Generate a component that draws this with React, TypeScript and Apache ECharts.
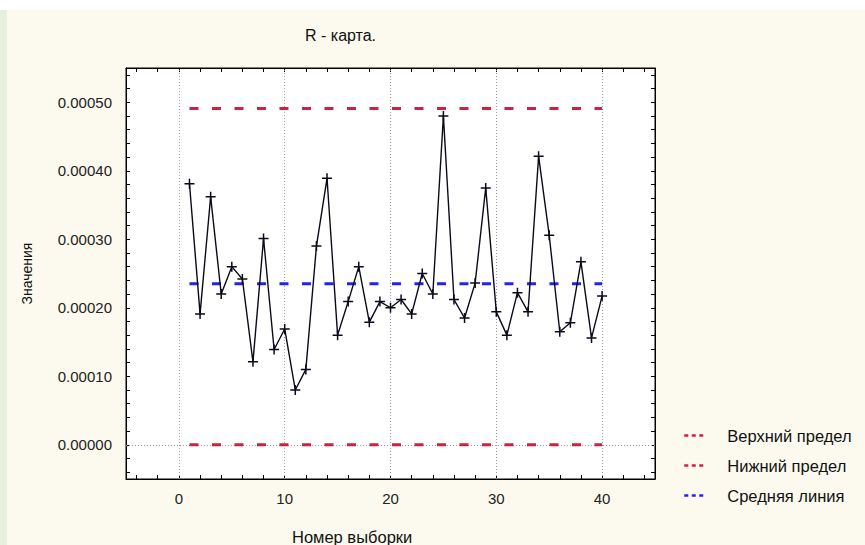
import React, { useEffect, useRef } from "react";
import * as echarts from "echarts";

const sampleNumbers = [
  1, 2, 3, 4, 5, 6, 7, 8, 9, 10, 11, 12, 13, 14, 15, 16, 17, 18, 19, 20,
  21, 22, 23, 24, 25, 26, 27, 28, 29, 30, 31, 32, 33, 34, 35, 36, 37, 38, 39, 40,
];
const rangeValues = [
  0.000381, 0.000191, 0.000362, 0.00022, 0.00026, 0.000242, 0.000121, 0.000301,
  0.000139, 0.000169, 0.00008, 0.00011, 0.00029, 0.000389, 0.00016, 0.000209,
  0.00026, 0.000179, 0.000209, 0.0002, 0.000212, 0.000191, 0.00025, 0.00022,
  0.00048, 0.000212, 0.000185, 0.000236, 0.000375, 0.000194, 0.00016, 0.000222,
  0.000194, 0.000421, 0.000306, 0.000165, 0.000178, 0.000267, 0.000156, 0.000217,
];
const upperLimit = 0.000491;
const centerLine = 0.000235;
const lowerLimit = 0;
const limitSpan = [1, 40];
const xTickLabels = [0, 10, 20, 30, 40];
const xMinorTicks = [
  -4, -2, 0, 2, 4, 6, 8, 10, 12, 14, 16, 18, 20, 22, 24, 26, 28, 30, 32, 34, 36,
  38, 40, 42, 44,
];
const yTickLabels = [0, 0.0001, 0.0002, 0.0003, 0.0004, 0.0005];
const yMinorTicks = [
  -0.00004, -0.00002, 0, 0.00002, 0.00004, 0.00006, 0.00008, 0.0001, 0.00012,
  0.00014, 0.00016, 0.00018, 0.0002, 0.00022, 0.00024, 0.00026, 0.00028, 0.0003,
  0.00032, 0.00034, 0.00036, 0.00038, 0.0004, 0.00042, 0.00044, 0.00046, 0.00048,
  0.0005, 0.00052, 0.00054,
];
const legendNames = ["Верхний предел", "Нижний предел", "Средняя линия"];

const FONT = "'Liberation Sans', Arial, sans-serif";
const RED = "#cc2240";
const BLUE = "#2424e8";
const PLUS = "path://M4.25,0H5.75V4.25H10V5.75H5.75V10H4.25V5.75H0V4.25H4.25Z";

export default function App() {
  const ref = useRef<HTMLDivElement>(null);
  useEffect(() => {
    if (!ref.current) return;
    const chart = echarts.init(ref.current, undefined, { renderer: "svg" });
    const axisCommon = {
      type: "value" as const,
      axisLine: { show: true, onZero: false, lineStyle: { color: "#000", width: 1 } },
      splitLine: { show: false },
    };
    const limitLine = (name: string, value: number, color: string, extra: any = {}) => ({
      name,
      type: "line",
      data: limitSpan.map((x) => [x, value]),
      symbol: "none",
      silent: true,
      z: 2,
      lineStyle: { color, width: 3, type: [9, 13.5] },
      itemStyle: { color },
      ...extra,
    });
    chart.setOption({
      animation: false,
      backgroundColor: "transparent",
      textStyle: { fontFamily: FONT },
      title: [
        {
          text: "R - карта.",
          left: 300,
          top: 22,
          textStyle: { fontSize: 16, fontWeight: "normal", color: "#111", fontFamily: FONT },
        },
        {
          text: "Номер выборки",
          left: 287,
          top: 523,
          textStyle: { fontSize: 16.5, fontWeight: "normal", color: "#111", fontFamily: FONT },
        },
      ],
      grid: {
        left: 126,
        top: 68,
        width: 529,
        height: 411,
        show: true,
        backgroundColor: "#ffffff",
        borderColor: "#000",
        borderWidth: 1,
      },
      legend: {
        data: legendNames,
        orient: "vertical",
        left: 678,
        top: 422,
        itemWidth: 22,
        itemHeight: 14,
        itemGap: 13,
        itemStyle: { opacity: 0 },
        lineStyle: { type: [4, 3.5], width: 2.5 },
        textStyle: { fontSize: 16.5, color: "#111", fontFamily: FONT, padding: [0, 0, 0, 16] },
      },
      xAxis: [
        {
          ...axisCommon,
          position: "bottom",
          min: -5,
          max: 45,
          axisTick: { show: true, inside: true, length: 4, customValues: xMinorTicks, lineStyle: { color: "#000" } },
          axisLabel: {
            show: true,
            customValues: xTickLabels,
            fontSize: 15,
            color: "#222",
            margin: 12,
            fontFamily: FONT,
          },
        },
        {
          ...axisCommon,
          position: "top",
          min: -5,
          max: 45,
          axisTick: { show: true, inside: true, length: 4, customValues: xMinorTicks, lineStyle: { color: "#000" } },
          axisLabel: { show: false },
        },
      ],
      yAxis: [
        {
          ...axisCommon,
          position: "left",
          min: -0.00005,
          max: 0.00055,
          name: "Значения",
          nameLocation: "middle",
          nameGap: 92,
          nameRotate: 90,
          nameTextStyle: { fontSize: 14, color: "#111", fontFamily: FONT },
          axisTick: { show: true, inside: true, length: 4, customValues: yMinorTicks, lineStyle: { color: "#000" } },
          axisLabel: {
            show: true,
            customValues: yTickLabels,
            fontSize: 15,
            color: "#222",
            margin: 14,
            fontFamily: FONT,
            formatter: (v: number) => v.toFixed(5),
          },
        },
        {
          ...axisCommon,
          position: "right",
          min: -0.00005,
          max: 0.00055,
          axisTick: { show: true, inside: true, length: 4, customValues: yMinorTicks, lineStyle: { color: "#000" } },
          axisLabel: { show: false },
        },
      ],
      series: [
        limitLine(legendNames[0], upperLimit, RED),
        limitLine(legendNames[1], lowerLimit, RED, {
          markLine: {
            silent: true,
            symbol: "none",
            z: 1,
            label: { show: false },
            lineStyle: { color: "#9a9a9a", type: [1, 2], width: 1 },
            data: [
              ...yTickLabels.map((v) => ({ yAxis: v })),
              ...xTickLabels.map((v) => ({ xAxis: v })),
            ],
          },
        }),
        limitLine(legendNames[2], centerLine, BLUE),
        {
          name: "R",
          type: "line",
          data: sampleNumbers.map((x, i) => [x, rangeValues[i]]),
          symbol: PLUS,
          symbolSize: 10,
          z: 4,
          silent: true,
          itemStyle: { color: "#0a0a1a" },
          lineStyle: { color: "#0a0a1a", width: 1.4 },
        },
      ],
    });
    return () => chart.dispose();
  }, []);

  return (
    <div style={{ position: "fixed", left: 0, top: 0, width: 865, height: 545, background: "#ffffff" }}>
      <div
        style={{
          position: "absolute",
          left: 0,
          top: 10,
          width: 858,
          height: 535,
          background: "#fcfaee",
          borderLeft: "7px solid #e6f0dc",
        }}
      />
      <div ref={ref} style={{ position: "absolute", left: 0, top: 0, width: 865, height: 545 }} />
    </div>
  );
}
